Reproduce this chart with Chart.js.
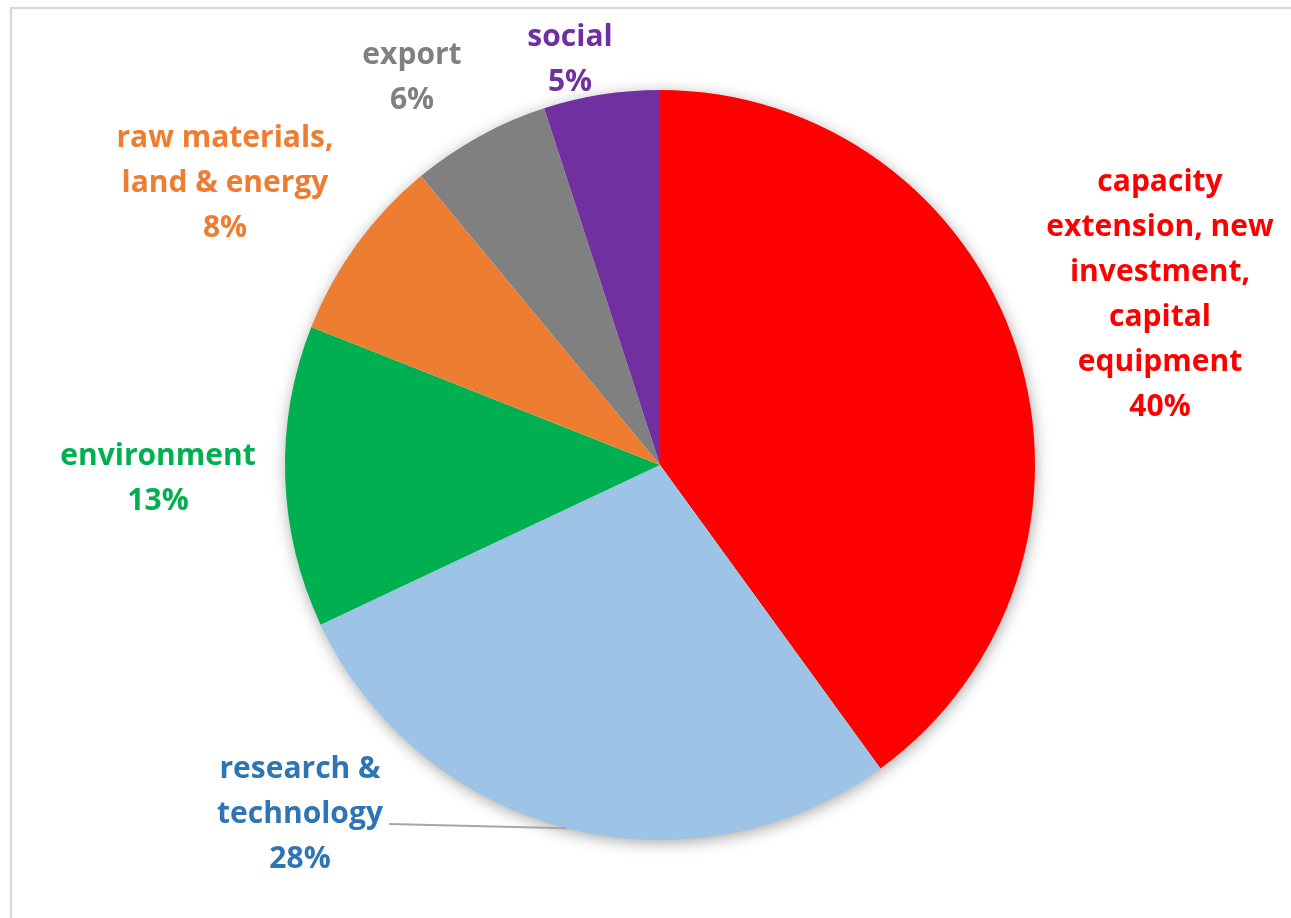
<!DOCTYPE html>
<html>
<head>
<meta charset="utf-8">
<title>Investment purposes</title>
<script src="https://cdn.jsdelivr.net/npm/chart.js@4.4.1/dist/chart.umd.min.js"></script>
<style>
  html, body { margin: 0; padding: 0; background: #fff; }
  canvas { display: block; }
</style>
</head>
<body>
<canvas id="pie" width="1291" height="918"></canvas>
<script>
// categories, clockwise from 12 o'clock
var categories = [
    ['capacity', 'extension, new', 'investment,', 'capital', 'equipment'],
    ['research &', 'technology'],
    ['environment'],
    ['raw materials,', 'land & energy'],
    ['export'],
    ['social']
];
var shares = [40, 28, 13, 8, 6, 5];
var sliceColors = ['#FF0000', '#9DC3E6', '#00B050', '#ED7D31', '#808080', '#7030A0'];
var labelColors = ['#FF0000', '#2E75B6', '#00B050', '#ED7D31', '#808080', '#7030A0'];

// where each label block is centred, relative to the pie centre
var labelOffsets = [
    [500, -170],
    [-360, 349],
    [-502, 14],
    [-435, -282],
    [-248, -387],
    [-90, -405]
];
var LINE_H = 45;
var FONT = 'bold 30px "Open Sans", sans-serif';

var pieDecor = {
    id: 'pieDecor',
    beforeDraw: function (chart) {
        var ctx = chart.ctx;
        ctx.save();
        ctx.fillStyle = '#fff';
        ctx.fillRect(0, 0, chart.width, chart.height);
        ctx.strokeStyle = '#d9d9d9';
        ctx.lineWidth = 2.5;
        ctx.strokeRect(11, 8, chart.width + 50, chart.height + 50);
        ctx.restore();
    },
    beforeDatasetsDraw: function (chart) {
        // soft shadow under the whole pie
        var arc = chart.getDatasetMeta(0).data[0];
        var ctx = chart.ctx;
        ctx.save();
        ctx.shadowColor = 'rgba(0,0,0,0.38)';
        ctx.shadowBlur = 16;
        ctx.shadowOffsetX = 1;
        ctx.shadowOffsetY = 3;
        ctx.fillStyle = '#fff';
        ctx.beginPath();
        ctx.arc(arc.x, arc.y, arc.outerRadius - 1, 0, Math.PI * 2);
        ctx.fill();
        ctx.restore();
    },
    afterDatasetsDraw: function (chart) {
        var meta = chart.getDatasetMeta(0);
        var ctx = chart.ctx;
        var cx = meta.data[0].x, cy = meta.data[0].y;
        ctx.save();
        ctx.font = FONT;
        ctx.textAlign = 'center';
        ctx.textBaseline = 'middle';
        categories.forEach(function (lines, i) {
            var all = lines.concat([shares[i] + '%']);
            var bx = cx + labelOffsets[i][0];
            var top = cy + labelOffsets[i][1] - (all.length - 1) * LINE_H / 2;
            ctx.fillStyle = labelColors[i];
            all.forEach(function (t, k) {
                ctx.fillText(t, bx, top + k * LINE_H);
            });

            // leader line for the research label
            if (i === 1) {
                var el = meta.data[i];
                var mid = (el.startAngle + el.endAngle) / 2;
                var ex = el.x + Math.cos(mid) * el.outerRadius;
                var ey = el.y + Math.sin(mid) * el.outerRadius;
                var w = ctx.measureText(lines[1]).width;
                ctx.strokeStyle = '#a6a6a6';
                ctx.lineWidth = 2;
                ctx.beginPath();
                ctx.moveTo(bx + w / 2 + 6, top + LINE_H + 10);
                ctx.lineTo(ex, ey);
                ctx.stroke();
            }
        });
        ctx.restore();
    }
};

new Chart(document.getElementById('pie'), {
    type: 'pie',
    data: {
        labels: categories.map(function (l) { return l.join(' '); }),
        datasets: [{
            data: shares,
            backgroundColor: sliceColors,
            borderWidth: 0,
            hoverOffset: 0
        }]
    },
    options: {
        responsive: false,
        animation: false,
        layout: { padding: { left: 285, right: 256, top: 90, bottom: 78 } },
        plugins: {
            legend: { display: false },
            tooltip: { enabled: false }
        }
    },
    plugins: [pieDecor]
});
</script>
</body>
</html>
